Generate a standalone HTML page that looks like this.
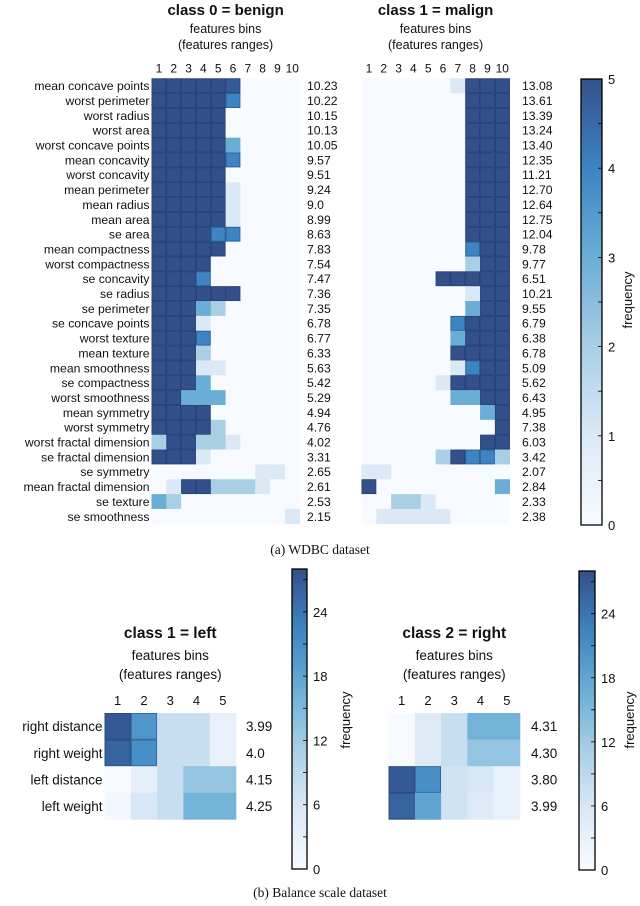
<!DOCTYPE html>
<html><head><meta charset="utf-8">
<style>
body{margin:0;background:#fff;}
svg{display:block;font-family:"Liberation Sans",sans-serif;}
</style></head>
<body>
<svg id="chart" width="640" height="906" viewBox="0 0 640 906" xmlns="http://www.w3.org/2000/svg">
<defs>
<linearGradient id="cbar" x1="0" y1="1" x2="0" y2="0">
<stop offset="0" stop-color="#f7fbff"/><stop offset="0.2" stop-color="#dbe9f6"/><stop offset="0.4" stop-color="#a9cfe5"/><stop offset="0.6" stop-color="#6aaed6"/><stop offset="0.8" stop-color="#3d84c2"/><stop offset="1" stop-color="#33508a"/>
</linearGradient>
</defs>
</svg>
<script>
const wdbcFeatures=["mean concave points","worst perimeter","worst radius","worst area","worst concave points","mean concavity","worst concavity","mean perimeter","mean radius","mean area","se area","mean compactness","worst compactness","se concavity","se radius","se perimeter","se concave points","worst texture","mean texture","mean smoothness","se compactness","worst smoothness","mean symmetry","worst symmetry","worst fractal dimension","se fractal dimension","se symmetry","mean fractal dimension","se texture","se smoothness"];
const wdbcBins=["1","2","3","4","5","6","7","8","9","10"];
const benignValues=[
[5,5,5,5,5,4.8,0,0,0,0],[5,5,5,5,5,4,0,0,0,0],[5,5,5,5,5,0,0,0,0,0],[5,5,5,5,5,0,0,0,0,0],
[5,5,5,5,5,3,0,0,0,0],[5,5,5,5,5,4,0,0,0,0],[5,5,5,5,5,0,0,0,0,0],[5,5,5,5,5,1,0,0,0,0],
[5,5,5,5,5,1,0,0,0,0],[5,5,5,5,5,1,0,0,0,0],[5,5,5,5,4,4,0,0,0,0],[5,5,5,5,5,0,0,0,0,0],
[5,5,5,5,0,0,0,0,0,0],[5,5,5,4,0,0,0,0,0,0],[5,5,5,5,5,5,0,0,0,0],[5,5,5,3,2,0,0,0,0,0],
[5,5,5,1,0,0,0,0,0,0],[5,5,5,4,0,0,0,0,0,0],[5,5,5,2,0,0,0,0,0,0],[5,5,5,1,1,0,0,0,0,0],
[5,5,5,3,0,0,0,0,0,0],[5,5,3,3,3,0,0,0,0,0],[5,5,5,5,0,0,0,0,0,0],[5,5,5,5,2,0,0,0,0,0],
[2,5,5,2,2,1,0,0,0,0],[5,5,5,1,0,0,0,0,0,0],[0,0,0,0,0,0,0,1,1,0],[0,1,5,5,2,2,2,1,0,0],
[3,2,0,0,0,0,0,0,0,0],[0,0,0,0,0,0,0,0,0,1]];
const benignRanges=["10.23","10.22","10.15","10.13","10.05","9.57","9.51","9.24","9.0","8.99","8.63","7.83","7.54","7.47","7.36","7.35","6.78","6.77","6.33","5.63","5.42","5.29","4.94","4.76","4.02","3.31","2.65","2.61","2.53","2.15"];
const malignValues=[
[0,0,0,0,0,0,1,5,5,5],[0,0,0,0,0,0,0,5,5,5],[0,0,0,0,0,0,0,5,5,5],[0,0,0,0,0,0,0,5,5,5],
[0,0,0,0,0,0,0,5,5,5],[0,0,0,0,0,0,0,5,5,5],[0,0,0,0,0,0,0,5,5,5],[0,0,0,0,0,0,0,5,5,5],
[0,0,0,0,0,0,0,5,5,5],[0,0,0,0,0,0,0,5,5,5],[0,0,0,0,0,0,0,5,5,5],[0,0,0,0,0,0,0,4,5,5],
[0,0,0,0,0,0,0,2,5,5],[0,0,0,0,0,5,5,5,5,5],[0,0,0,0,0,0,0,1,5,5],[0,0,0,0,0,0,0,3,5,5],
[0,0,0,0,0,0,4,5,5,5],[0,0,0,0,0,0,3,5,5,5],[0,0,0,0,0,0,5,5,5,5],[0,0,0,0,0,0,1,4,5,5],
[0,0,0,0,0,1,5,5,5,5],[0,0,0,0,0,0,3,3,5,5],[0,0,0,0,0,0,0,0,3,5],[0,0,0,0,0,0,0,0,0,5],
[0,0,0,0,0,0,0,0,5,5],[0,0,0,0,0,2,5,4,4,2],[1,1,0,0,0,0,0,0,0,0],[5,0,0,0,0,0,0,0,0,3],
[0,0,2,2,1,0,0,0,0,0],[0,1,1,1,1,1,0,0,0,0]];
const malignRanges=["13.08","13.61","13.39","13.24","13.40","12.35","11.21","12.70","12.64","12.75","12.04","9.78","9.77","6.51","10.21","9.55","6.79","6.38","6.78","5.09","5.62","6.43","4.95","7.38","6.03","3.42","2.07","2.84","2.33","2.38"];
const wdbcTicks=[0,1,2,3,4,5];
const balanceFeatures=["right distance","right weight","left distance","left weight"];
const balanceBins=["1","2","3","4","5"];
const leftValues=[[27,20,8,8,3],[26,21,8,8,3],[0,4,8,13,13],[1,6,8,16,16]];
const leftRanges=["3.99","4.0","4.15","4.25"];
const rightValues=[[0,5,8,16,16],[0,5,8,13,13],[27,21,7,6,3],[26,18,7,5,3]];
const rightRanges=["4.31","4.30","3.80","3.99"];
const balanceTicks=[0,6,12,18,24];

const svg=document.getElementById('chart');
const NS='http://www.w3.org/2000/svg';
const stops=[[0,[247,251,255]],[0.2,[219,233,246]],[0.4,[169,207,229]],[0.6,[106,174,214]],[0.8,[61,132,194]],[1,[51,80,138]]];
function cmap(t){t=Math.max(0,Math.min(1,t));for(let i=1;i<stops.length;i++){if(t<=stops[i][0]){const a=stops[i-1],b=stops[i];const f=(t-a[0])/(b[0]-a[0]);const c=a[1].map((v,k)=>Math.round(v+(b[1][k]-v)*f));return `rgb(${c[0]},${c[1]},${c[2]})`;}}return 'rgb(51,80,138)';}
function mk(tag,attrs,parent){const e=document.createElementNS(NS,tag);for(const k in attrs)e.setAttribute(k,attrs[k]);(parent||svg).appendChild(e);return e;}
function txt(x,y,s,size,anchor,extra){const t=mk('text',Object.assign({x:x,y:y,'font-size':size,'text-anchor':anchor||'start',fill:'#111'},extra||{}));t.textContent=s;return t;}

function heatmap(cfg){
  const g=mk('g',{});
  
  
  const xs=i=>cfg.x0+i*cfg.cw, ys=j=>cfg.y0+j*cfg.ch;
  cfg.values.forEach((row,j)=>row.forEach((v,i)=>{
    const r=mk('rect',{x:xs(i),y:ys(j),width:cfg.cw+0.3,height:cfg.ch+0.3,fill:cmap(v/cfg.max)},g);
    
    
    if(v>=cfg.max*0.7){mk('rect',{x:xs(i)+0.5,y:ys(j)+0.5,width:cfg.cw-1,height:cfg.ch-1,fill:'none',stroke:'rgba(30,50,100,0.5)','stroke-width':0.8},g);}
  }));
  const cx=cfg.x0+cfg.cw*cfg.bins.length/2;
  let t=txt(cx,cfg.titleY,cfg.title,cfg.titleSize,'middle',{'font-weight':'bold'});
  
  t=txt(cx,cfg.titleY+cfg.sub1,'features bins',cfg.subSize,'middle');
  
  t=txt(cx,cfg.titleY+cfg.sub2,'(features ranges)',cfg.subSize,'middle');
  
  cfg.bins.forEach((b,i)=>{const l=txt(xs(i)+cfg.cw/2,cfg.y0-cfg.tickGap,b,cfg.tickSize,'middle');});
  if(cfg.features){cfg.features.forEach((f,j)=>{const l=txt(cfg.x0-2,ys(j)+cfg.ch/2+cfg.labelSize*0.36,f,cfg.labelSize,'end');});}
  cfg.ranges.forEach((r,j)=>{const l=txt(cfg.rx,ys(j)+cfg.ch/2+cfg.labelSize*0.36,r,cfg.labelSize,'start');});
}
function colorbar(cfg){
  const g=mk('g',{});
  
  
  mk('rect',{x:cfg.x,y:cfg.y0,width:cfg.w,height:cfg.y1-cfg.y0,fill:'url(#cbar)',stroke:'#000','stroke-width':1.3},g);
  const ys=v=>cfg.y1-(v/cfg.max)*(cfg.y1-cfg.y0);
  cfg.ticks.forEach(v=>{
    mk('line',{x1:cfg.x+cfg.w-4,x2:cfg.x+cfg.w,y1:ys(v),y2:ys(v),stroke:'#000','stroke-width':0.8},g);
    const l=txt(cfg.x+cfg.w+6,ys(v)+5,String(v),cfg.size,'start');
    
    if(cfg.minor){const m=v+cfg.minor;if(m<cfg.max)mk('line',{x1:cfg.x+cfg.w-4,x2:cfg.x+cfg.w,y1:ys(m),y2:ys(m),stroke:'#000','stroke-width':0.8},g);}
  });
  const l=txt(cfg.lx,cfg.ly,'frequency',cfg.size,'middle',{transform:`rotate(-90 ${cfg.lx} ${cfg.ly})`});
  
}
const topCfg={cw:14.82,ch:14.85,y0:78.3,max:5,titleY:15,sub1:18,sub2:34,titleSize:15,subSize:12.5,tickSize:12,tickGap:6,labelSize:12.2};
heatmap(Object.assign({},topCfg,{name:'benign-heatmap',x0:151.5,values:benignValues,bins:wdbcBins,features:wdbcFeatures,ranges:benignRanges,rx:307,title:'class 0 = benign'}));
heatmap(Object.assign({},topCfg,{name:'malign-heatmap',x0:361.5,values:malignValues,bins:wdbcBins,features:null,ranges:malignRanges,rx:522,title:'class 1 = malign'}));
colorbar({name:'wdbc-colorbar',x:581,w:21,y0:79,y1:525,max:5,ticks:wdbcTicks,minor:0.5,size:13,lx:632,ly:300});
const botCfg={cw:26.3,ch:26.6,y0:713,max:28,titleY:638,sub1:22,sub2:41,titleSize:15.5,subSize:13.5,tickSize:13,tickGap:8,labelSize:13.5};
heatmap(Object.assign({},botCfg,{name:'left-class-heatmap',x0:104.5,values:leftValues,bins:balanceBins,features:balanceFeatures,ranges:leftRanges,rx:246,title:'class 1 = left'}));
heatmap(Object.assign({},botCfg,{name:'right-class-heatmap',x0:388.5,values:rightValues,bins:balanceBins,features:null,ranges:rightRanges,rx:531,title:'class 2 = right'}));
colorbar({name:'left-colorbar',x:292,w:15,y0:569,y1:869,max:28,ticks:balanceTicks,minor:3,size:13,lx:350,ly:720});
colorbar({name:'right-colorbar',x:579,w:16,y0:571,y1:870,max:28,ticks:balanceTicks,minor:3,size:13,lx:634,ly:720});
let c=txt(320,554,'(a)  WDBC dataset',13.5,'middle',{'font-family':'Liberation Serif, serif'});

c=txt(320,897,'(b)  Balance scale dataset',13.5,'middle',{'font-family':'Liberation Serif, serif'});

</script>
</body></html>
